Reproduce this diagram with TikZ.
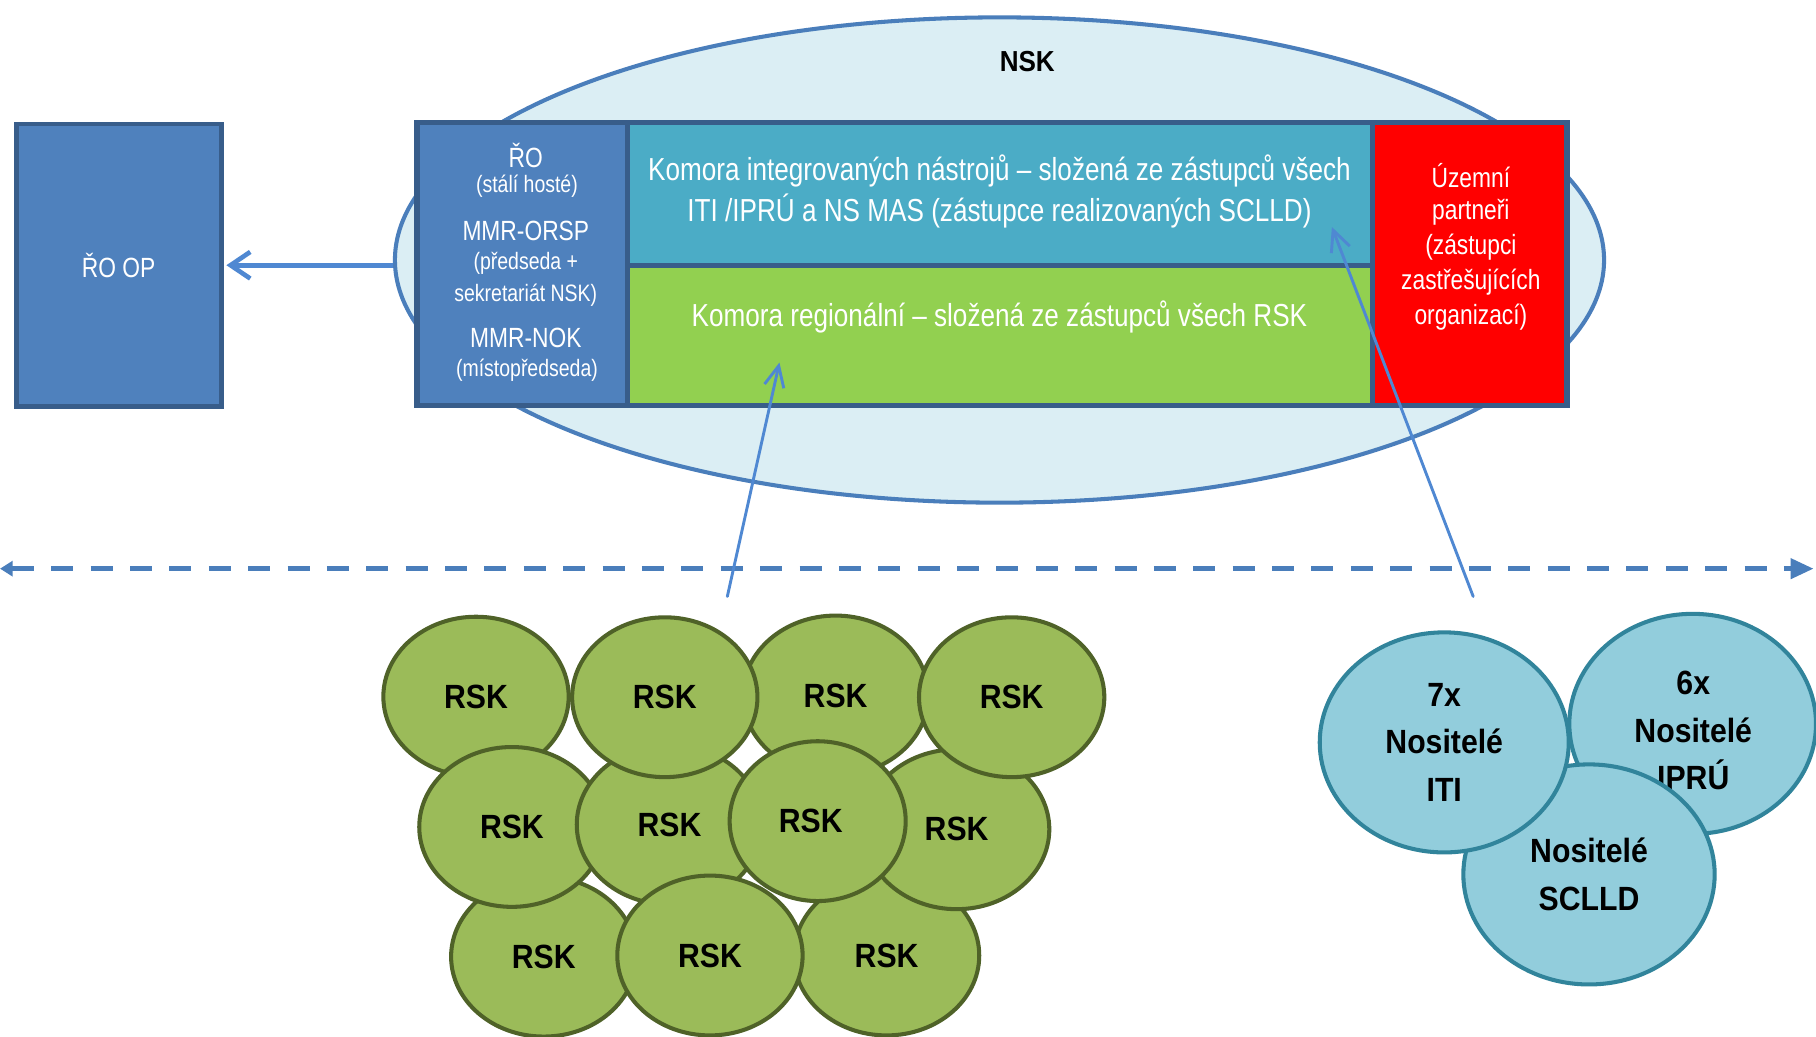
\documentclass[tikz,border=0pt]{standalone}
\usepackage{fontspec}
\setmainfont{Liberation Sans}
\newfontfamily\nar[FakeStretch=0.82]{Liberation Sans}
\newfontfamily\bnar[FakeStretch=0.9]{Liberation Sans}
\usetikzlibrary{shapes.geometric,arrows.meta}
\definecolor{nskfill}{RGB}{219,238,244}
\definecolor{nskline}{RGB}{74,126,187}
\definecolor{roblue}{RGB}{79,129,189}
\definecolor{celline}{RGB}{56,93,138}
\definecolor{tealc}{RGB}{75,172,198}
\definecolor{greenc}{RGB}{146,208,80}
\definecolor{redc}{RGB}{255,0,0}
\definecolor{arrblue}{RGB}{79,136,210}
\definecolor{dashblue}{RGB}{74,126,187}
\definecolor{rskfill}{RGB}{155,187,89}
\definecolor{rskline}{RGB}{79,98,40}
\definecolor{nosfill}{RGB}{146,205,220}
\definecolor{nosline}{RGB}{49,132,155}
\tikzset{
  cell/.style={draw=celline, line width=4.5pt, inner sep=0pt},
  big/.style={text=white, inner sep=0pt, font=\nar\fontsize{24}{28}\selectfont},
  small/.style={text=white, inner sep=0pt, font=\nar\fontsize{20.5}{24}\selectfont},
  mid/.style={text=white, inner sep=0pt, font=\nar\fontsize{27.5}{34}\selectfont},
  rsk/.style={ellipse, draw=rskline, fill=rskfill, line width=3.5pt, minimum width=160pt, minimum height=138pt, inner sep=0pt, font=\bnar\bfseries\fontsize{29}{32}\selectfont},
  nos/.style={ellipse, draw=nosline, fill=nosfill, line width=3.5pt, minimum width=215pt, minimum height=190pt, inner sep=0pt, align=center, font=\bnar\bfseries\fontsize{29}{41}\selectfont},
  nostext/.style={inner sep=0pt, align=center, font=\bnar\bfseries\fontsize{29}{41}\selectfont},
  thinarrow/.style={draw=arrblue, line width=2.5pt, line cap=round, -{Straight Barb[length=18pt, width=17pt, line width=2.5pt]}},
  bigarrow/.style={draw=arrblue, line width=4pt, -{Straight Barb[length=17pt, width=23pt, line width=4pt]}},
}
\begin{document}
\begin{tikzpicture}[x=1pt,y=-1pt]
\useasboundingbox (0,0) rectangle (1568,895);
\fill[white] (0,0) rectangle (1568,895);
% NSK ellipse
\node[ellipse, draw=nskline, fill=nskfill, line width=3.5pt, minimum width=1044pt, minimum height=419pt, inner sep=0pt] (nsk) at (863,224.5) {};
\node[inner sep=0pt, font=\bnar\bfseries\fontsize{25}{28}\selectfont] (nsklabel) at (887,53) {NSK};
% RO OP box
\node[draw=celline, fill=roblue, line width=4pt, minimum width=177pt, minimum height=244pt, inner sep=0pt, text=white, font=\nar\fontsize{24}{28}\selectfont] (roop) at (102.5,229) {ŘO OP};
\draw[bigarrow] (nsk.west |- roop.east) -- ([xshift=2.5pt]roop.east);
% table cells
\node[cell, fill=roblue, minimum width=182pt, minimum height=244pt] (rocell) at (451,228) {};
\node[cell, fill=tealc, minimum width=643pt, minimum height=123pt] (iticell) at (863.5,167.5) {};
\node[cell, fill=greenc, minimum width=643pt, minimum height=121pt] (rskcell) at (863.5,289.5) {};
\node[cell, fill=redc, minimum width=168pt, minimum height=244pt] (partcell) at (1269,228) {};
% left column text
\node[big] (t1) at (454,134) {ŘO};
\node[small] (t2) at (455,161) {(stálí hosté)};
\node[big] (t3) at (454,199) {MMR-ORSP};
\node[small] (t4) at (454,227) {(předseda +};
\node[small] (t5) at (454,255) {sekretariát NSK)};
\node[big] (t6) at (454,292) {MMR-NOK};
\node[small] (t7) at (455,320) {(místopředseda)};
% middle texts
\node[mid] (k1) at (863,148) {Komora integrovaných nástrojů – složená ze zástupců všech};
\node[mid] (k2) at (863,182) {ITI /IPRÚ a NS MAS (zástupce realizovaných SCLLD)};
\node[mid] (k3) at (863,274) {Komora regionální – složená ze zástupců všech RSK};
% red texts
\node[big] (p1) at (1270,152) {Územní};
\node[big] (p2) at (1270,183) {partneři};
\node[big] (p3) at (1270,213) {(zástupci};
\node[big] (p4) at (1270,244) {zastřešujících};
\node[big] (p5) at (1270,274) {organizací)};
% dashed line
\coordinate (dl) at (0,491);
\coordinate (dr) at (1566,491);
\draw[dashblue, line width=4.5pt, dash pattern=on 19pt off 15pt, {Triangle[length=11pt,width=13pt]}-{Triangle[length=20pt,width=17pt]}] (dl) -- (dr);
% RSK ellipses
\node[rsk] (r9) at (469.5,826) {RSK};
\node[rsk] (r11) at (765.5,825) {RSK};
\node[rsk] (r1) at (411,601.5) {RSK};
\node[rsk] (r3) at (721.5,600.5) {RSK};
\node[rsk] (r8) at (826,716) {RSK};
\node[rsk] (r5) at (442,714) {RSK};
\node[rsk] (r6) at (578,712) {RSK};
\node[rsk] (r2) at (574,602) {RSK};
\node[rsk] (r4) at (873.5,602) {RSK};
\node[rsk, minimum width=152pt] (r7) at (706,709) {\hspace*{-12pt}RSK};
\node[rsk] (r10) at (613,825) {RSK};
% right ellipses
\node[nos, minimum width=213pt] (ipru) at (1461.5,625) {};
\node[nostext] (iprutext) at (1462,631) {6x\\Nositelé\\IPRÚ};
\node[nos, minimum width=217pt] (scll) at (1372,755) {Nositelé\\SCLLD};
\node[nos] (iti) at (1247,641) {7x\\Nositelé\\ITI};
% thin arrows
\coordinate (rskfoot) at (628,515);
\coordinate (rskhead) at (673,313);
\coordinate (nosfoot) at (1272,515);
\coordinate (noshead) at (1150,196);
\draw[thinarrow] (rskfoot) -- (rskhead);
\draw[thinarrow] (nosfoot) -- (noshead);
\end{tikzpicture}
\end{document}
